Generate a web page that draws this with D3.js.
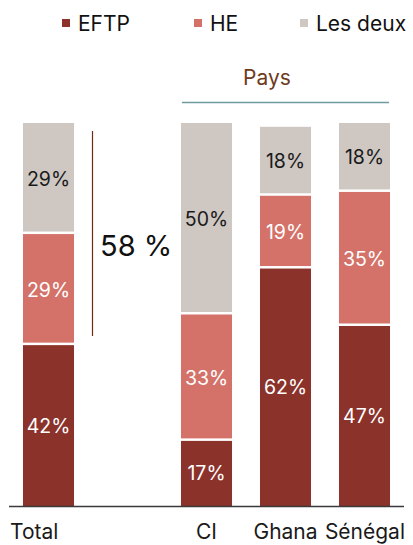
<!DOCTYPE html>
<html>
<head>
<meta charset="utf-8">
<script src="https://cdn.jsdelivr.net/npm/d3@7"></script>
<style>
  html, body { margin: 0; padding: 0; background: #fff; }
  svg { display: block; font-family: "Inter", "Noto Sans", sans-serif; }
</style>
</head>
<body>
<svg id="chart" width="413" height="545"></svg>
<script>
// Categories (an empty slot separates the total from the countries)
const categories = ["Total", "", "CI", "Ghana", "Sénégal"];
const seriesKeys = ["EFTP", "HE", "Les deux"];
const eftp    = [42, null, 17, 62, 47];
const he      = [29, null, 33, 19, 35];
const lesDeux = [29, null, 50, 18, 18];
const colors  = ["#8b322b", "#d4726a", "#cec7c2"];
const labelColors = ["#ffffff", "#ffffff", "#1a1a1a"];
const bracketLabel = "58 %";
const groupTitle = "Pays";

const svg = d3.select("#chart");

const x = d3.scaleBand()
  .domain(categories)
  .range([9, 404])
  .paddingInner(0.354)
  .paddingOuter(0.177);

const y = d3.scaleLinear().domain([0, 100]).range([506, 123]);

const rows = categories.map((c, i) => ({
  cat: c, "EFTP": eftp[i], "HE": he[i], "Les deux": lesDeux[i]
})).filter(r => r["EFTP"] !== null);

const stacked = d3.stack().keys(seriesKeys)(rows);
const gap = 2.5;

const layers = svg.append("g").selectAll("g")
  .data(stacked)
  .join("g")
  .attr("fill", (d, i) => colors[i]);

layers.selectAll("rect")
  .data(d => d)
  .join("rect")
  .attr("x", d => x(d.data.cat))
  .attr("width", x.bandwidth())
  .attr("y", d => y(d[1]))
  .attr("height", d => y(d[0]) - y(d[1]) - (d[0] > 0 ? gap : 0));

// Value labels inside each segment
stacked.forEach((layer, li) => {
  svg.append("g").selectAll("text")
    .data(layer)
    .join("text")
    .attr("x", d => x(d.data.cat) + x.bandwidth() / 2)
    .attr("y", d => (y(d[0]) + y(d[1])) / 2)
    .attr("dy", "0.36em")
    .attr("text-anchor", "middle")
    .attr("font-size", 19.5)
    .attr("fill", labelColors[li])
    .text(d => (d[1] - d[0]) + "%");
});

// Baseline
svg.append("line")
  .attr("x1", 9).attr("x2", 404)
  .attr("y1", y(0) + 0.5).attr("y2", y(0) + 0.5)
  .attr("stroke", "#3a3a3a").attr("stroke-width", 1.5);

// Category labels
const xAxis = svg.append("g").attr("transform", `translate(0,${y(0)})`)
  .call(d3.axisBottom(x).tickSize(0).tickPadding(18));
xAxis.select(".domain").remove();
xAxis.selectAll("text")
  .attr("font-size", 21)
  .attr("font-family", "Inter, 'Noto Sans', sans-serif")
  .attr("fill", "#1a1a1a");
xAxis.selectAll(".tick").filter(d => d === "Total")
  .select("text").attr("text-anchor", "start")
  .attr("x", 10 - (x("Total") + x.bandwidth() / 2));
xAxis.selectAll(".tick").filter(d => d === "Sénégal")
  .select("text").attr("text-anchor", "end")
  .attr("x", 405 - (x("Sénégal") + x.bandwidth() / 2));

// Bracket marking the combined share of the total bar
svg.append("line")
  .attr("x1", 92.5).attr("x2", 92.5)
  .attr("y1", 131).attr("y2", 336)
  .attr("stroke", "#6b2c14").attr("stroke-width", 1.2);
svg.append("text")
  .attr("x", 100).attr("y", 256)
  .attr("font-size", 29)
  .attr("fill", "#111")
  .text(bracketLabel);

// Country group header
const gx0 = x("CI"), gx1 = x("Sénégal") + x.bandwidth();
svg.append("text")
  .attr("x", 267).attr("y", 85)
  .attr("text-anchor", "middle")
  .attr("font-size", 21)
  .attr("fill", "#6e3a1e")
  .text(groupTitle);
svg.append("line")
  .attr("x1", gx0 + 1).attr("x2", gx1 - 1)
  .attr("y1", 102.5).attr("y2", 102.5)
  .attr("stroke", "#6e9aa0").attr("stroke-width", 1.3);

// Legend
const legendX = [62, 194, 300];
const legend = svg.append("g").selectAll("g")
  .data(seriesKeys)
  .join("g")
  .attr("transform", (d, i) => `translate(${legendX[i]},0)`);
legend.append("rect")
  .attr("x", 0).attr("y", 19).attr("width", 8).attr("height", 8)
  .attr("fill", (d, i) => colors[i]);
legend.append("text")
  .attr("x", 16).attr("y", 30.5)
  .attr("font-size", 21)
  .attr("fill", "#111")
  .text(d => d);
</script>
</body>
</html>
